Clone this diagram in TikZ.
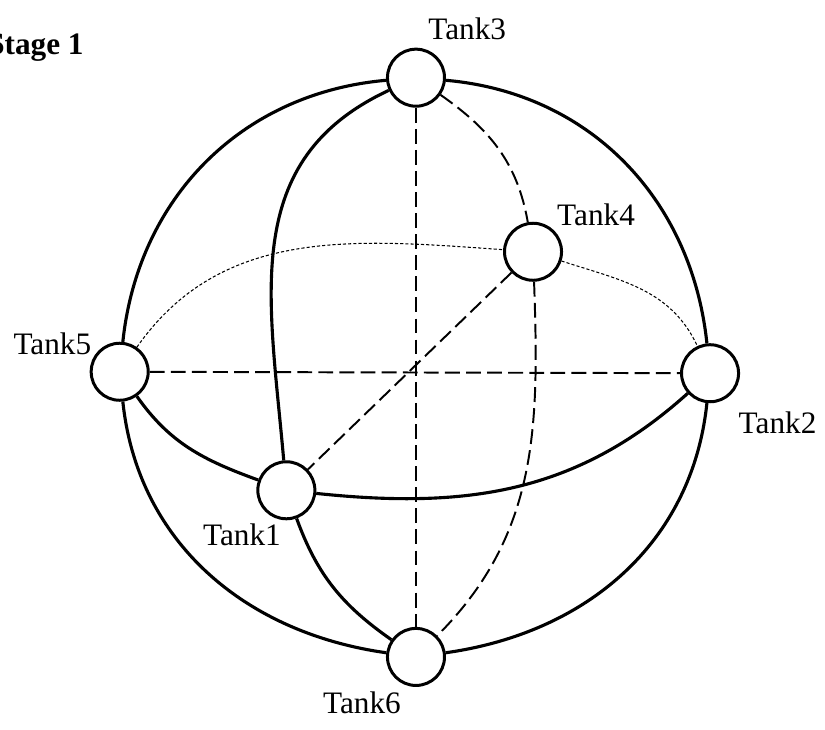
\documentclass[tikz,border=0pt]{standalone}
\usepackage{fontspec}
\setmainfont{Liberation Serif}
\usepackage{tikz}

\tikzset{
  tank/.style={circle, draw, line width=1.15pt, fill=white, minimum size=0.77cm, inner sep=0pt},
  rim/.style={line width=1.2pt},
  hidden/.style={line width=0.75pt, dash pattern=on 5.7pt off 2.4pt},
  faint/.style={line width=0.4pt, dash pattern=on 1.2pt off 0.8pt}
}

\begin{document}
\begin{tikzpicture}[scale=1.0, font=\fontsize{12}{14}\selectfont]
  \useasboundingbox (-5.616,-4.806) rectangle (5.522,5.049);
  \node[anchor=base east, inner sep=0pt, font=\fontsize{12}{14}\selectfont\bfseries] (stage) at (-4.48,4.31) {Stage 1};
  % tanks and their names
  \foreach \n/\x/\y/\lx/\ly in {1/-1.75/-1.57/-2.88/-2.32, 2/3.97/0.01/4.35/-0.81, 3/0/4.0/0.16/4.52, 4/1.58/1.65/1.90/2.01, 5/-4.0/0.03/-5.44/0.26, 6/0/-3.82/-1.26/-4.58}
  {
    \node[tank] (t\n) at (\x,\y) {};
    \node[anchor=base west, inner sep=0pt] (l\n) at (\lx,\ly) {Tank\n};
  }
  % outline
  \draw[rim] (t3) to[out=-5,in=96] (t2) to[out=-96,in=8] (t6) to[out=172,in=-84] (t5) to[out=84,in=185] (t3);
  % front half
  \draw[rim] (t5) to[out=-55,in=160] (t1) to[out=-6,in=222] (t2);
  \draw[rim] (t3) to[out=205,in=95,looseness=1.1] (t1) to[out=-70,in=145] (t6);
  % back half
  \draw[faint] (t5) to[out=55,in=176] (t4) to[out=-18,in=115] (t2);
  \draw[hidden] (t3) to[out=-35,in=100] (t4) to[out=-88,in=45] (t6);
  \foreach \a/\b in {3/6,5/2,4/1}
    \draw[hidden] (t\a) -- (t\b);
\end{tikzpicture}
\end{document}
